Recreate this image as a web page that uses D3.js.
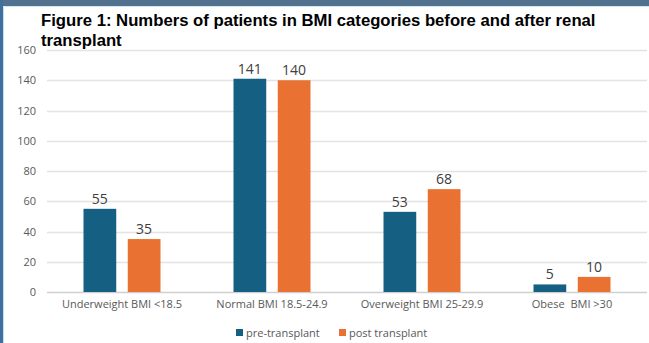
<!DOCTYPE html>
<html>
<head>
<meta charset="utf-8">
<script src="https://cdn.jsdelivr.net/npm/d3@7"></script>
<style>
  html, body { margin: 0; padding: 0; background: #fff; }
  svg { display: block; }
</style>
</head>
<body>
<svg id="chart" width="649" height="343"></svg>
<script>
const categories = ["Underweight BMI <18.5", "Normal BMI 18.5-24.9", "Overweight BMI 25-29.9", "Obese  BMI >30"];
const preTransplant = [55, 141, 53, 5];
const postTransplant = [35, 140, 68, 10];
const seriesNames = ["pre-transplant", "post transplant"];
const yTicks = [0, 20, 40, 60, 80, 100, 120, 140, 160];
const titleLines = ["Figure 1: Numbers of patients in BMI categories before and after renal", "transplant"];

const colors = ["#156082", "#E97132"];
const labelFont = "Open Sans, Liberation Sans, sans-serif";

const svg = d3.select("#chart");
const W = 649, H = 343;

// frame
svg.append("rect").attr("x", 0).attr("y", 0).attr("width", W).attr("height", H).attr("fill", "#ffffff");
svg.append("rect").attr("x", 0).attr("y", 0).attr("width", W).attr("height", 6).attr("fill", "#52718f");
svg.append("rect").attr("x", 0).attr("y", 0).attr("width", 3).attr("height", H).attr("fill", "#3f6f9a");
svg.append("line").attr("x1", 3.5).attr("x2", 3.5).attr("y1", 6).attr("y2", H).attr("stroke", "#bfe3f2").attr("stroke-width", 1);
svg.append("line").attr("x1", 3).attr("x2", W).attr("y1", 6.5).attr("y2", 6.5).attr("stroke", "#cfe8f3").attr("stroke-width", 1);

const x0 = d3.scaleBand().domain(categories).range([47, 647]);
const x1 = d3.scaleBand().domain(seriesNames).range([x0.bandwidth() / 2 - 38.5, x0.bandwidth() / 2 + 38.5]).paddingInner(0.26);
const y = d3.scaleLinear().domain([0, 160]).range([292, 50]);

// gridlines
svg.append("g").selectAll("line").data(yTicks).join("line")
  .attr("x1", 47).attr("x2", 647)
  .attr("y1", d => Math.round(y(d)) + 0.5).attr("y2", d => Math.round(y(d)) + 0.5)
  .attr("stroke", d => d === 0 ? "#d0d0d0" : "#e3e3e3").attr("stroke-width", 1.5);

// y axis labels
const yAxis = d3.axisLeft(y).tickValues(yTicks).tickSize(0).tickPadding(0);
const yg = svg.append("g").attr("transform", "translate(36,0)").call(yAxis);
yg.select(".domain").remove();
yg.selectAll("text").attr("fill", "#595959").attr("font-family", labelFont).attr("font-size", 11);

// x axis labels
const xAxis = d3.axisBottom(x0).tickSize(0).tickPadding(0);
const xg = svg.append("g").attr("transform", "translate(0,300)").call(xAxis);
xg.select(".domain").remove();
xg.selectAll("text").attr("fill", "#595959").attr("font-family", labelFont).attr("font-size", 11)
  .style("white-space", "pre");

// bars
const rows = categories.map((c, i) => ({ cat: c, vals: [preTransplant[i], postTransplant[i]] }));
const groups = svg.append("g").selectAll("g").data(rows).join("g")
  .attr("transform", d => `translate(${x0(d.cat)},0)`);
groups.selectAll("rect").data(d => d.vals.map((v, j) => ({ v, s: seriesNames[j], j }))).join("rect")
  .attr("x", d => x1(d.s)).attr("width", x1.bandwidth())
  .attr("y", d => y(d.v)).attr("height", d => y(0) - y(d.v))
  .attr("fill", d => colors[d.j]);
groups.selectAll("text").data(d => d.vals.map((v, j) => ({ v, s: seriesNames[j], j }))).join("text")
  .attr("x", d => x1(d.s) + x1.bandwidth() / 2).attr("y", d => y(d.v) - 5)
  .attr("text-anchor", "middle").attr("fill", "#404040")
  .attr("font-family", labelFont).attr("font-size", 14)
  .text(d => d.v);

// title
svg.append("g").selectAll("text").data(titleLines).join("text")
  .attr("x", 41).attr("y", (d, i) => 26 + i * 20)
  .attr("font-family", "Liberation Sans, Arial, sans-serif").attr("font-weight", "bold")
  .attr("font-size", 16.7).attr("fill", "#000")
  .text(d => d);

// legend
const legendX = [236, 339];
const lg = svg.append("g").selectAll("g").data(seriesNames).join("g")
  .attr("transform", (d, i) => `translate(${legendX[i]},329)`);
lg.append("rect").attr("x", 0).attr("y", 0).attr("width", 7).attr("height", 7).attr("fill", (d, i) => colors[i]);
lg.append("text").attr("x", 10).attr("y", 7.5).attr("fill", "#595959")
  .attr("font-family", labelFont).attr("font-size", 11).text(d => d);
</script>
</body>
</html>
